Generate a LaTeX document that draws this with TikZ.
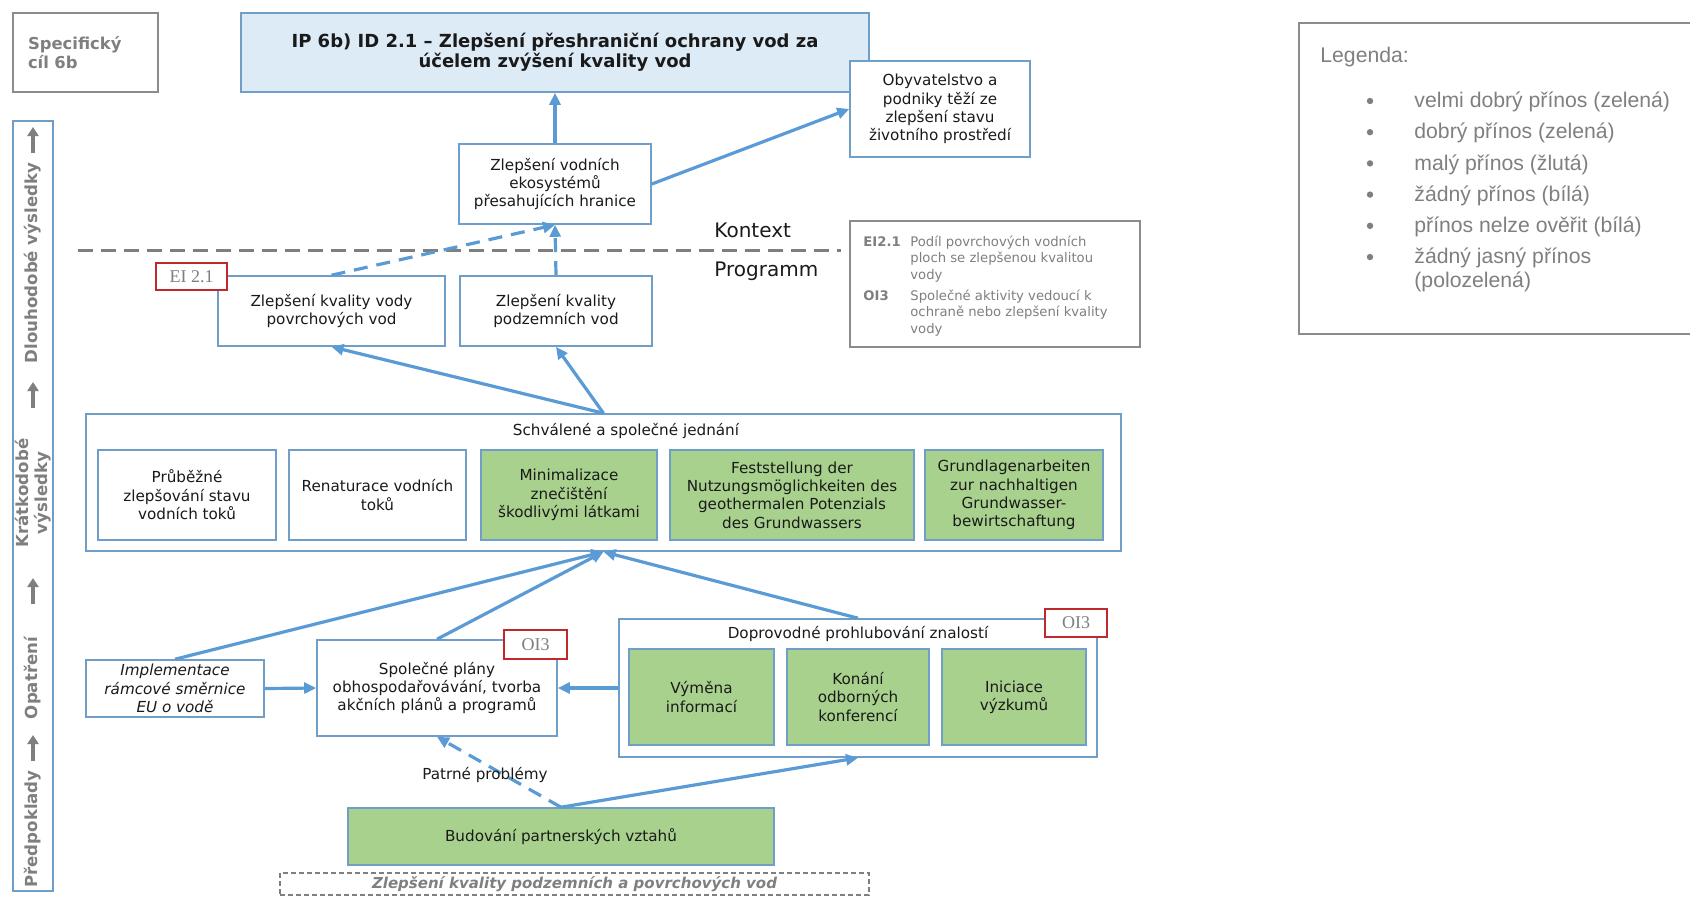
\documentclass[tikz,border=0pt]{standalone}
\usepackage{fontspec}
\setmainfont{DejaVu Sans}
\newfontfamily\legendfont{Liberation Sans}
\newfontfamily\tagfont{Liberation Serif}
\usetikzlibrary{arrows.meta}
\definecolor{CBlue}{HTML}{5B9BD5}
\definecolor{CBorder}{HTML}{6F9FC8}
\definecolor{CBlueLight}{HTML}{DDEBF7}
\definecolor{CGreen}{HTML}{A9D18E}
\definecolor{CRed}{HTML}{C0282D}
\definecolor{CGray}{HTML}{7F7F7F}
\definecolor{CGrayLine}{HTML}{8C8C8C}
\definecolor{CText}{HTML}{1A1A1A}

\begin{document}
\begin{tikzpicture}[x=0.5pt, y=-0.5pt,
    txt/.style={font=\fontsize{7.6}{9.2}\selectfont, text=CText, align=center},
    box/.style={txt, draw=CBorder, line width=0.8pt, fill=white, inner sep=1pt},
    greenbox/.style={box, fill=CGreen},
    group/.style={draw=CBorder, line width=0.8pt, fill=white},
    tag/.style={draw=CRed, line width=0.9pt, fill=white, text=CGray, font=\tagfont\fontsize{9}{10}\selectfont, inner sep=0pt},
    link/.style={draw=CBlue, line width=1.6pt, -{Triangle[length=6pt,width=5.5pt]}},
    dlink/.style={link, dash pattern=on 7pt off 4.5pt},
    sidearrow/.style={draw=CGray, line width=2.2pt, -{Triangle[length=4.5pt,width=5.5pt]}},
    side/.style={rotate=90, text=CGray, font=\bfseries\fontsize{8.3}{9.4}\selectfont, align=center, inner sep=0pt},
    legend/.style={font=\legendfont\fontsize{10.6}{12}\selectfont, text=CGray, align=left, inner sep=0pt},
]
  \useasboundingbox (0,0) rectangle (1690,896);

  % left bar with the levels
  \node[group, minimum width=20pt, minimum height=385pt] (sidebar) at (33,506) {};
  \foreach \y in {153,408,604,761}
    \draw[sidearrow] (33,\y) -- ++(0,-26);
  \node[side] (lblLong) at (33,263) {Dlouhodobé výsledky};
  \node[side] (lblShort) at (33,493) {Krátkodobé\\výsledky};
  \node[side] (lblMeasure) at (33,678) {Opatření};
  \node[side] (lblPre) at (33,829) {Předpoklady};

  % top row
  \node[draw=CGrayLine, line width=0.8pt, minimum width=72.5pt, minimum height=39.5pt, text width=57.5pt, inner xsep=7.5pt, align=left, text=CGray, font=\bfseries\fontsize{8.2}{9.5}\selectfont] (spec) at (85.5,52.5) {Specifický\\cíl 6b};
  \node[box, fill=CBlueLight, font=\bfseries\fontsize{9}{10.2}\selectfont, minimum width=314pt, minimum height=39.5pt] (title) at (555,52.5) {IP 6b) ID 2.1 – Zlepšení přeshraniční ochrany vod za\\účelem zvýšení kvality vod};
  \node[box, minimum width=90pt, minimum height=48pt] (obyv) at (940,109) {Obyvatelstvo a\\podniky těží ze\\zlepšení stavu\\životního prostředí};
  \node[box, minimum width=96pt, minimum height=40pt] (eco) at (555,184) {Zlepšení vodních\\ekosystémů\\přesahujících hranice};

  % context / programme border
  \coordinate (ctxL) at (78,250);
  \coordinate (ctxR) at (841,250);
  \draw[CGray, line width=1.5pt, dash pattern=on 7.5pt off 4pt] (ctxL) -- (ctxR);
  \node[anchor=west, inner sep=0pt, text=CText, font=\fontsize{10}{12}\selectfont] (kontext) at (714,230) {Kontext};
  \node[anchor=west, inner sep=0pt, text=CText, font=\fontsize{10}{12}\selectfont] (programm) at (714,271) {Programm};

  % indicators
  \node[draw=CGrayLine, line width=0.8pt, fill=white, minimum width=145pt, minimum height=63pt] (ind) at (995,284) {};
  \node[anchor=north west, inner sep=0pt, text=CGray, font=\fontsize{6.6}{8.1}\selectfont] (indtxt) at (863,235) {%
    \begin{tabular}{@{}p{23.5pt}@{}l@{}}
      \textbf{EI2.1} & Podíl povrchových vodních\\
                     & ploch se zlepšenou kvalitou\\
                     & vody\\[2.7pt]
      \textbf{OI3}   & Společné aktivity vedoucí k\\
                     & ochraně nebo zlepšení kvality\\
                     & vody
    \end{tabular}};

  % long-term results
  \node[box, minimum width=113.5pt, minimum height=35pt] (surf) at (331.5,311) {Zlepšení kvality vody\\povrchových vod};
  \node[box, minimum width=96pt, minimum height=35pt] (ground) at (556,311) {Zlepšení kvality\\podzemních vod};
  \node[tag, minimum width=35.5pt, minimum height=13.5pt] (tagEI) at (191.5,276.5) {EI 2.1};

  % short-term results
  \node[group, minimum width=517.5pt, minimum height=68.5pt] (schv) at (603.5,482.5) {};
  \node[txt] (schvtitle) at (626,431) {Schválené a společné jednání};
  \node[box, minimum width=89pt, minimum height=45pt] (prub) at (187,495) {Průběžné\\zlepšování stavu\\vodních toků};
  \node[box, minimum width=88.5pt, minimum height=45pt] (renat) at (377.5,495) {Renaturace vodních\\toků};
  \node[greenbox, minimum width=88pt, minimum height=45pt] (minim) at (569,495) {Minimalizace\\znečištění\\škodlivými látkami};
  \node[greenbox, minimum width=122pt, minimum height=45pt] (fest) at (792,495) {Feststellung der\\Nutzungsmöglichkeiten des\\geothermalen Potenzials\\des Grundwassers};
  \node[greenbox, minimum width=89pt, minimum height=45pt] (grund) at (1014,495) {Grundlagenarbeiten\\zur nachhaltigen\\Grundwasser-\\bewirtschaftung};

  % measures
  \node[box, font=\itshape\fontsize{7.6}{9.2}\selectfont, minimum width=89pt, minimum height=28.5pt, inner sep=0pt] (impl) at (175,688.5) {Implementace\\rámcové směrnice\\EU o vodě};
  \node[box, minimum width=120pt, minimum height=48pt] (spol) at (437,688) {Společné plány\\obhospodařovávání, tvorba\\akčních plánů a programů};
  \node[tag, minimum width=31.5pt, minimum height=14.5pt] (tagOIa) at (535.5,644.5) {OI3};
  \node[group, minimum width=239pt, minimum height=69pt] (dopr) at (858,688) {};
  \node[txt] (doprtitle) at (858,634) {Doprovodné prohlubování znalostí};
  \node[greenbox, minimum width=72.5pt, minimum height=48pt] (vym) at (701.5,697) {Výměna\\informací};
  \node[greenbox, minimum width=71pt, minimum height=48pt] (kon) at (858,697) {Konání\\odborných\\konferencí};
  \node[greenbox, minimum width=72pt, minimum height=48pt] (inic) at (1014,697) {Iniciace\\výzkumů};
  \node[tag, minimum width=31pt, minimum height=14pt] (tagOIb) at (1076,623) {OI3};

  % preconditions
  \node[greenbox, minimum width=213pt, minimum height=28.5pt] (bud) at (561,836.5) {Budování partnerských vztahů};
  \node[draw=CGray, line width=0.8pt, dash pattern=on 2.5pt off 1.5pt, minimum width=294.5pt, minimum height=11pt, inner sep=0pt, text=CGray, font=\bfseries\itshape\fontsize{7.5}{9}\selectfont] (base) at (574.5,884) {Zlepšení kvality podzemních a povrchových vod};

  % connectors
  \draw[link] (eco.north) -- (title.south);
  \draw[link] (eco.east) -- (obyv.west);
  \draw[dlink] (surf.north) -- (eco.south);
  \draw[dlink] (ground.north) -- (eco.south);
  \draw[link] (schv.north) -- (surf.south);
  \draw[link] (schv.north) -- (ground.south);
  \draw[link] (impl.north) -- (schv.south);
  \draw[link] (spol.north) -- (schv.south);
  \draw[link] (dopr.north) -- (schv.south);
  \draw[link] (impl.east) -- (spol.west);
  \draw[link] (dopr.west) -- (spol.east);
  \draw[dlink] (bud.north) -- (spol.south);
  \draw[link] (bud.north) -- (dopr.south);
  \node[txt] (patrne) at (485,775) {Patrné problémy};

  % legend
  \draw[CGrayLine, line width=0.8pt] (1690,23) -- (1299,23) -- (1299,334) -- (1690,334);
  \node[legend, anchor=base west] (legTitle) at (1320,62) {Legenda:};
  \foreach \txt/\yb [count=\i] in {velmi dobrý přínos (zelená)/107, dobrý přínos (zelená)/138, malý přínos (žlutá)/170, žádný přínos (bílá)/201, přínos nelze ověřit (bílá)/232, {žádný jasný přínos\\(polozelená)}/287} {
    \fill[CGray] (1370,{69.8+31.2*\i}) circle (1.6pt);
    \node[legend, anchor=base west] (leg\i) at (1414,\yb) {\txt};
  }
\end{tikzpicture}
\end{document}
